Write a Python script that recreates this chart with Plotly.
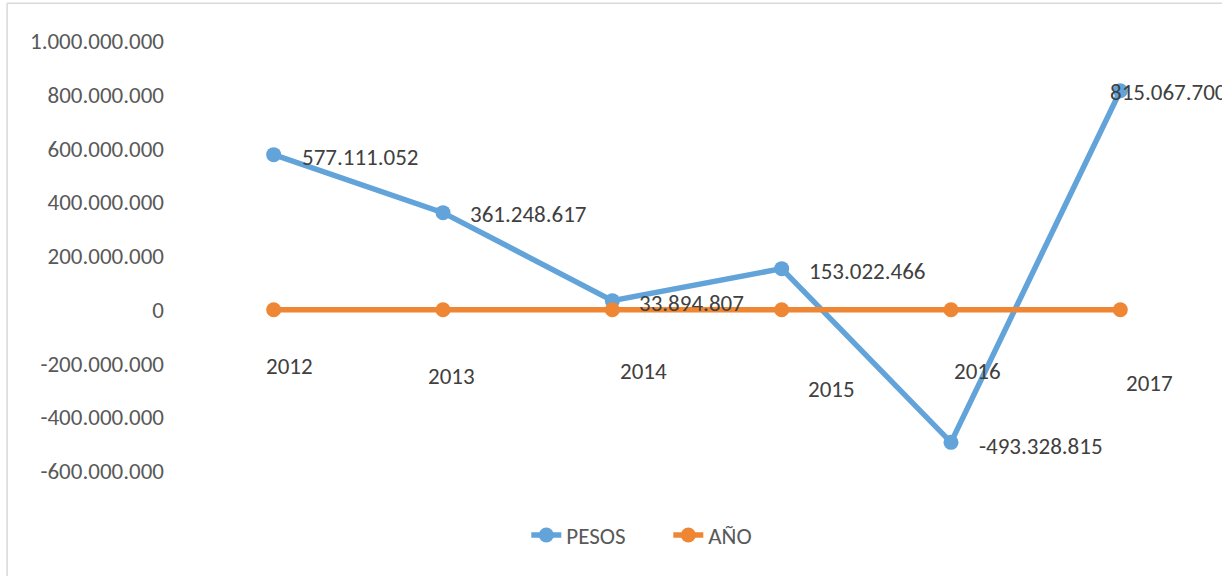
import plotly.graph_objects as go

# ---- data ----
categories = ["2012", "2013", "2014", "2015", "2016", "2017"]
pesos = [577111052, 361248617, 33894807, 153022466, -493328815, 815067700]
anio = [2012, 2013, 2014, 2015, 2016, 2017]
y_ticks = [1000000000, 800000000, 600000000, 400000000, 200000000, 0,
           -200000000, -400000000, -600000000]


def fmt(v):
    s = f"{abs(int(v)):,}".replace(",", ".")
    return ("-" if v < 0 else "") + s


# ---- style ----
BLUE = "#62A3DA"
ORANGE = "#EF8633"
FONT = "Calibri, Carlito, Lato, sans-serif"
LABEL_COLOR = "#404040"
TICK_COLOR = "#595959"
FS = 23

# label offsets (pixels) for data labels, as placed in the original
pesos_dx = [26, 25, 25, 25, 26, -12]
pesos_dy = [-2, -1, -2, -2, -4, -1]
year_dx = [16, 8, 31, 50, 26, 29]
year_dy = [-56, -66, -61, -79, -61, -73]

x = list(range(len(categories)))

fig = go.Figure()
fig.add_trace(go.Scatter(
    x=x, y=pesos, name="PESOS", mode="lines+markers",
    line=dict(color=BLUE, width=5.5),
    marker=dict(color=BLUE, size=15),
    cliponaxis=False,
))
fig.add_trace(go.Scatter(
    x=x, y=anio, name="AÑO", mode="lines+markers",
    line=dict(color=ORANGE, width=5.5),
    marker=dict(color=ORANGE, size=15),
    cliponaxis=False,
))

annotations = []
for i, v in enumerate(pesos):
    annotations.append(dict(
        x=x[i], y=v, xref="x", yref="y", text=fmt(v), showarrow=False,
        xanchor="left", yanchor="middle", xshift=pesos_dx[i], yshift=pesos_dy[i],
        font=dict(family=FONT, size=FS, color=LABEL_COLOR),
    ))
for i, v in enumerate(anio):
    annotations.append(dict(
        x=x[i], y=v, xref="x", yref="y", text=categories[i], showarrow=False,
        xanchor="center", yanchor="middle", xshift=year_dx[i], yshift=year_dy[i],
        font=dict(family=FONT, size=FS, color=LABEL_COLOR),
    ))

fig.update_layout(
    width=1222, height=576,
    margin=dict(l=189, r=17, t=41, b=105),
    paper_bgcolor="white", plot_bgcolor="white",
    font=dict(family=FONT, size=FS, color=TICK_COLOR),
    showlegend=True,
    legend=dict(
        orientation="h", x=0.332, y=-0.149, xanchor="left", yanchor="middle",
        font=dict(family=FONT, size=FS, color=TICK_COLOR),
        bgcolor="rgba(0,0,0,0)", entrywidth=97, entrywidthmode="pixels",
    ),
    annotations=annotations,
    shapes=[
        dict(type="line", xref="paper", yref="paper", x0=-0.179, x1=1.02,
             y0=1.088, y1=1.088, line=dict(color="#D9D9D9", width=1.5)),
        dict(type="line", xref="paper", yref="paper", x0=-0.179, x1=-0.179,
             y0=1.088, y1=-0.25, line=dict(color="#D9D9D9", width=1.5)),
    ],
)
fig.update_xaxes(range=[-0.5, 5.5], showticklabels=False, showgrid=False,
                 zeroline=False, showline=False, ticks="")
fig.update_yaxes(range=[-600000000, 1000000000], tickvals=y_ticks,
                 ticktext=[fmt(t) for t in y_ticks], showgrid=False,
                 zeroline=False, showline=False, ticks="",
                 ticklabelstandoff=24,
                 tickfont=dict(family=FONT, size=FS, color=TICK_COLOR))

fig.write_html("out.html", config={"displayModeBar": False},
               post_script="document.body.style.margin='0';document.body.style.overflow='hidden';")
